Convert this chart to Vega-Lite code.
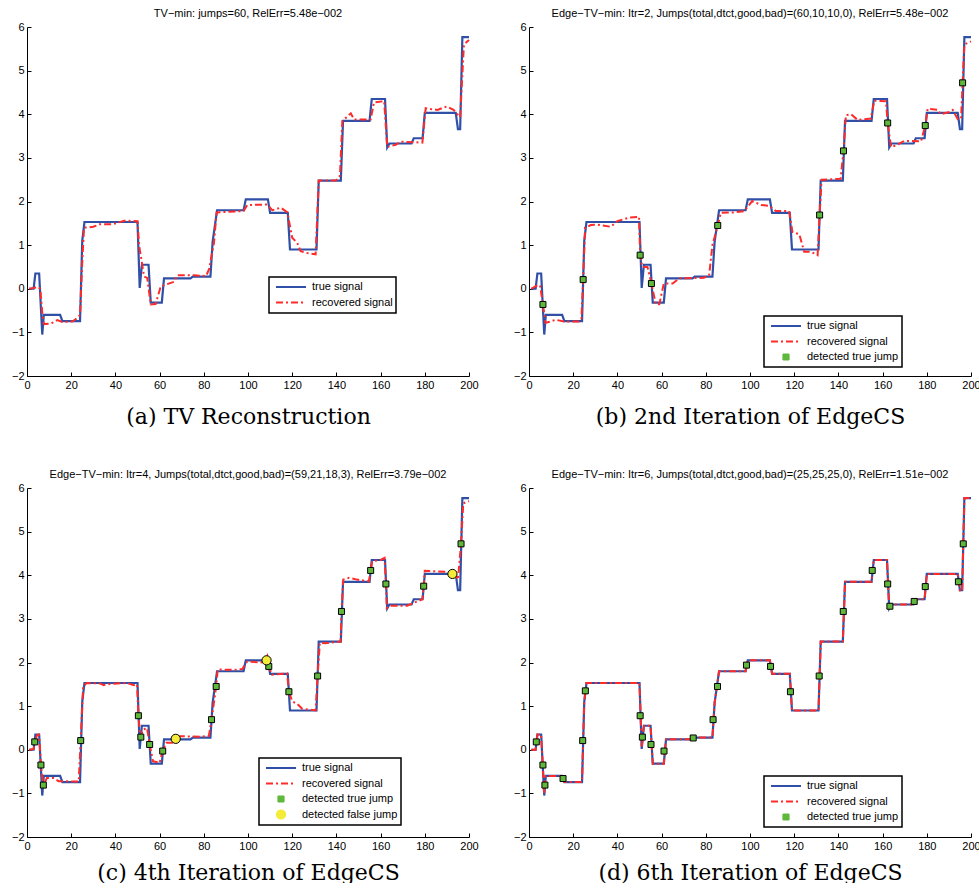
{
  "$schema": "https://vega.github.io/schema/vega-lite/v6.json",
  "background": "white",
  "padding": {"left": 11, "top": 8, "right": 0, "bottom": 0},
  "columns": 2,
  "bounds": "flush",
  "spacing": {"row": 112, "column": 60},
  "resolve": {"scale": {"color": "independent"}, "legend": {"color": "independent"}},
  "datasets": {
    "truth": [
      {"x": 1, "y": 0, "series": "true signal"},
      {"x": 3, "y": 0, "series": "true signal"},
      {"x": 3.8, "y": 0.35, "series": "true signal"},
      {"x": 5.5, "y": 0.35, "series": "true signal"},
      {"x": 6.9, "y": -1.05, "series": "true signal"},
      {"x": 7.6, "y": -0.6, "series": "true signal"},
      {"x": 15, "y": -0.6, "series": "true signal"},
      {"x": 16, "y": -0.74, "series": "true signal"},
      {"x": 24, "y": -0.74, "series": "true signal"},
      {"x": 25, "y": 1.1, "series": "true signal"},
      {"x": 26, "y": 1.53, "series": "true signal"},
      {"x": 50, "y": 1.53, "series": "true signal"},
      {"x": 51, "y": 0.02, "series": "true signal"},
      {"x": 52, "y": 0.55, "series": "true signal"},
      {"x": 55, "y": 0.55, "series": "true signal"},
      {"x": 56, "y": -0.32, "series": "true signal"},
      {"x": 61, "y": -0.32, "series": "true signal"},
      {"x": 62, "y": 0.24, "series": "true signal"},
      {"x": 74, "y": 0.24, "series": "true signal"},
      {"x": 75, "y": 0.28, "series": "true signal"},
      {"x": 83, "y": 0.28, "series": "true signal"},
      {"x": 84, "y": 1.08, "series": "true signal"},
      {"x": 86, "y": 1.8, "series": "true signal"},
      {"x": 98, "y": 1.8, "series": "true signal"},
      {"x": 99, "y": 2.05, "series": "true signal"},
      {"x": 109, "y": 2.05, "series": "true signal"},
      {"x": 110, "y": 1.74, "series": "true signal"},
      {"x": 118, "y": 1.74, "series": "true signal"},
      {"x": 119, "y": 0.9, "series": "true signal"},
      {"x": 131, "y": 0.9, "series": "true signal"},
      {"x": 132, "y": 2.48, "series": "true signal"},
      {"x": 142, "y": 2.48, "series": "true signal"},
      {"x": 143, "y": 3.85, "series": "true signal"},
      {"x": 155, "y": 3.85, "series": "true signal"},
      {"x": 156, "y": 4.35, "series": "true signal"},
      {"x": 162, "y": 4.35, "series": "true signal"},
      {"x": 163, "y": 3.24, "series": "true signal"},
      {"x": 164, "y": 3.33, "series": "true signal"},
      {"x": 174, "y": 3.33, "series": "true signal"},
      {"x": 175, "y": 3.45, "series": "true signal"},
      {"x": 179, "y": 3.45, "series": "true signal"},
      {"x": 180, "y": 4.03, "series": "true signal"},
      {"x": 194, "y": 4.03, "series": "true signal"},
      {"x": 195, "y": 3.66, "series": "true signal"},
      {"x": 196, "y": 3.66, "series": "true signal"},
      {"x": 197, "y": 5.77, "series": "true signal"},
      {"x": 200, "y": 5.77, "series": "true signal"}
    ],
    "recA": [
      {"x": 1, "y": 0, "series": "recovered signal"},
      {"x": 3, "y": 0.02, "series": "recovered signal"},
      {"x": 5, "y": 0.04, "series": "recovered signal"},
      {"x": 6, "y": 0.0, "series": "recovered signal"},
      {"x": 7, "y": -0.6, "series": "recovered signal"},
      {"x": 7.7, "y": -0.81, "series": "recovered signal"},
      {"x": 10.7, "y": -0.8, "series": "recovered signal"},
      {"x": 13.7, "y": -0.72, "series": "recovered signal"},
      {"x": 16, "y": -0.76, "series": "recovered signal"},
      {"x": 20.5, "y": -0.75, "series": "recovered signal"},
      {"x": 22, "y": -0.7, "series": "recovered signal"},
      {"x": 24, "y": -0.6, "series": "recovered signal"},
      {"x": 25, "y": 0.6, "series": "recovered signal"},
      {"x": 25.8, "y": 1.4, "series": "recovered signal"},
      {"x": 30, "y": 1.42, "series": "recovered signal"},
      {"x": 33, "y": 1.48, "series": "recovered signal"},
      {"x": 39, "y": 1.48, "series": "recovered signal"},
      {"x": 44, "y": 1.56, "series": "recovered signal"},
      {"x": 50, "y": 1.55, "series": "recovered signal"},
      {"x": 50.7, "y": 1.0, "series": "recovered signal"},
      {"x": 53, "y": 0.28, "series": "recovered signal"},
      {"x": 54.4, "y": 0.25, "series": "recovered signal"},
      {"x": 56, "y": -0.36, "series": "recovered signal"},
      {"x": 58.2, "y": -0.35, "series": "recovered signal"},
      {"x": 60.5, "y": 0.05, "series": "recovered signal"},
      {"x": 62, "y": 0.08, "series": "recovered signal"},
      {"x": 66.5, "y": 0.16, "series": "recovered signal"},
      {"x": 68, "y": 0.31, "series": "recovered signal"},
      {"x": 75.6, "y": 0.31, "series": "recovered signal"},
      {"x": 81, "y": 0.29, "series": "recovered signal"},
      {"x": 82.4, "y": 0.45, "series": "recovered signal"},
      {"x": 84.6, "y": 1.05, "series": "recovered signal"},
      {"x": 85.8, "y": 1.75, "series": "recovered signal"},
      {"x": 98, "y": 1.78, "series": "recovered signal"},
      {"x": 99.7, "y": 1.92, "series": "recovered signal"},
      {"x": 108.7, "y": 1.93, "series": "recovered signal"},
      {"x": 111, "y": 1.8, "series": "recovered signal"},
      {"x": 114.8, "y": 1.86, "series": "recovered signal"},
      {"x": 117.8, "y": 1.75, "series": "recovered signal"},
      {"x": 120, "y": 1.17, "series": "recovered signal"},
      {"x": 122.3, "y": 1.05, "series": "recovered signal"},
      {"x": 123.8, "y": 0.86, "series": "recovered signal"},
      {"x": 126.8, "y": 0.82, "series": "recovered signal"},
      {"x": 130.6, "y": 0.79, "series": "recovered signal"},
      {"x": 132, "y": 2.48, "series": "recovered signal"},
      {"x": 139.7, "y": 2.48, "series": "recovered signal"},
      {"x": 141.6, "y": 2.59, "series": "recovered signal"},
      {"x": 142.7, "y": 3.85, "series": "recovered signal"},
      {"x": 145, "y": 3.95, "series": "recovered signal"},
      {"x": 146.5, "y": 4.02, "series": "recovered signal"},
      {"x": 148, "y": 3.88, "series": "recovered signal"},
      {"x": 155.5, "y": 3.88, "series": "recovered signal"},
      {"x": 157, "y": 4.27, "series": "recovered signal"},
      {"x": 161.6, "y": 4.3, "series": "recovered signal"},
      {"x": 163, "y": 3.25, "series": "recovered signal"},
      {"x": 166.8, "y": 3.3, "series": "recovered signal"},
      {"x": 169, "y": 3.37, "series": "recovered signal"},
      {"x": 178.9, "y": 3.35, "series": "recovered signal"},
      {"x": 180.4, "y": 4.14, "series": "recovered signal"},
      {"x": 182.6, "y": 4.12, "series": "recovered signal"},
      {"x": 185.7, "y": 4.1, "series": "recovered signal"},
      {"x": 190, "y": 4.18, "series": "recovered signal"},
      {"x": 193, "y": 4.1, "series": "recovered signal"},
      {"x": 196, "y": 3.93, "series": "recovered signal"},
      {"x": 197.7, "y": 5.6, "series": "recovered signal"},
      {"x": 200, "y": 5.7, "series": "recovered signal"}
    ],
    "recB": [
      {"x": 1, "y": 0, "series": "recovered signal"},
      {"x": 3.8, "y": 0.08, "series": "recovered signal"},
      {"x": 5, "y": 0.08, "series": "recovered signal"},
      {"x": 6.3, "y": -0.36, "series": "recovered signal"},
      {"x": 7.5, "y": -0.78, "series": "recovered signal"},
      {"x": 9.8, "y": -0.75, "series": "recovered signal"},
      {"x": 12, "y": -0.71, "series": "recovered signal"},
      {"x": 15.8, "y": -0.75, "series": "recovered signal"},
      {"x": 22.6, "y": -0.75, "series": "recovered signal"},
      {"x": 23.7, "y": -0.7, "series": "recovered signal"},
      {"x": 24.5, "y": 0.21, "series": "recovered signal"},
      {"x": 25.4, "y": 1.4, "series": "recovered signal"},
      {"x": 28, "y": 1.46, "series": "recovered signal"},
      {"x": 31, "y": 1.47, "series": "recovered signal"},
      {"x": 37, "y": 1.42, "series": "recovered signal"},
      {"x": 40, "y": 1.55, "series": "recovered signal"},
      {"x": 45.3, "y": 1.63, "series": "recovered signal"},
      {"x": 49.8, "y": 1.65, "series": "recovered signal"},
      {"x": 50.3, "y": 0.77, "series": "recovered signal"},
      {"x": 51.3, "y": 0.5, "series": "recovered signal"},
      {"x": 53.6, "y": 0.5, "series": "recovered signal"},
      {"x": 55.4, "y": 0.12, "series": "recovered signal"},
      {"x": 57.4, "y": -0.36, "series": "recovered signal"},
      {"x": 59, "y": -0.35, "series": "recovered signal"},
      {"x": 61, "y": 0.12, "series": "recovered signal"},
      {"x": 65, "y": 0.12, "series": "recovered signal"},
      {"x": 68, "y": 0.24, "series": "recovered signal"},
      {"x": 79, "y": 0.25, "series": "recovered signal"},
      {"x": 81.5, "y": 0.3, "series": "recovered signal"},
      {"x": 83, "y": 1.0, "series": "recovered signal"},
      {"x": 85.4, "y": 1.45, "series": "recovered signal"},
      {"x": 86.8, "y": 1.74, "series": "recovered signal"},
      {"x": 93, "y": 1.75, "series": "recovered signal"},
      {"x": 97.4, "y": 1.78, "series": "recovered signal"},
      {"x": 101, "y": 2.01, "series": "recovered signal"},
      {"x": 105, "y": 1.92, "series": "recovered signal"},
      {"x": 108.7, "y": 1.9, "series": "recovered signal"},
      {"x": 111.7, "y": 1.78, "series": "recovered signal"},
      {"x": 117.7, "y": 1.78, "series": "recovered signal"},
      {"x": 119.2, "y": 1.3, "series": "recovered signal"},
      {"x": 122.3, "y": 1.25, "series": "recovered signal"},
      {"x": 124.5, "y": 0.85, "series": "recovered signal"},
      {"x": 127.5, "y": 0.85, "series": "recovered signal"},
      {"x": 130.6, "y": 0.77, "series": "recovered signal"},
      {"x": 131.5, "y": 1.69, "series": "recovered signal"},
      {"x": 132.4, "y": 2.5, "series": "recovered signal"},
      {"x": 141, "y": 2.52, "series": "recovered signal"},
      {"x": 142.3, "y": 3.16, "series": "recovered signal"},
      {"x": 143.4, "y": 3.98, "series": "recovered signal"},
      {"x": 145.7, "y": 4.0, "series": "recovered signal"},
      {"x": 148.7, "y": 3.87, "series": "recovered signal"},
      {"x": 154.7, "y": 3.9, "series": "recovered signal"},
      {"x": 156.2, "y": 4.31, "series": "recovered signal"},
      {"x": 161.5, "y": 4.3, "series": "recovered signal"},
      {"x": 162.3, "y": 3.8, "series": "recovered signal"},
      {"x": 163.8, "y": 3.25, "series": "recovered signal"},
      {"x": 166, "y": 3.28, "series": "recovered signal"},
      {"x": 169.8, "y": 3.39, "series": "recovered signal"},
      {"x": 177.4, "y": 3.38, "series": "recovered signal"},
      {"x": 179.3, "y": 3.74, "series": "recovered signal"},
      {"x": 180.4, "y": 4.13, "series": "recovered signal"},
      {"x": 185, "y": 4.1, "series": "recovered signal"},
      {"x": 186.4, "y": 4.0, "series": "recovered signal"},
      {"x": 190.2, "y": 4.05, "series": "recovered signal"},
      {"x": 191.7, "y": 4.1, "series": "recovered signal"},
      {"x": 194, "y": 3.89, "series": "recovered signal"},
      {"x": 195.5, "y": 3.9, "series": "recovered signal"},
      {"x": 196.2, "y": 4.72, "series": "recovered signal"},
      {"x": 197, "y": 5.6, "series": "recovered signal"},
      {"x": 200, "y": 5.67, "series": "recovered signal"}
    ],
    "recC": [
      {"x": 1, "y": 0, "series": "recovered signal"},
      {"x": 3, "y": 0.02, "series": "recovered signal"},
      {"x": 3.5, "y": 0.18, "series": "recovered signal"},
      {"x": 4.5, "y": 0.33, "series": "recovered signal"},
      {"x": 5.3, "y": 0.35, "series": "recovered signal"},
      {"x": 5.7, "y": 0.2, "series": "recovered signal"},
      {"x": 6.3, "y": -0.35, "series": "recovered signal"},
      {"x": 7.4, "y": -0.82, "series": "recovered signal"},
      {"x": 9, "y": -0.65, "series": "recovered signal"},
      {"x": 12, "y": -0.65, "series": "recovered signal"},
      {"x": 14.3, "y": -0.72, "series": "recovered signal"},
      {"x": 23.4, "y": -0.73, "series": "recovered signal"},
      {"x": 24.3, "y": 0.21, "series": "recovered signal"},
      {"x": 25.4, "y": 1.45, "series": "recovered signal"},
      {"x": 27, "y": 1.53, "series": "recovered signal"},
      {"x": 33, "y": 1.52, "series": "recovered signal"},
      {"x": 34.7, "y": 1.48, "series": "recovered signal"},
      {"x": 36, "y": 1.5, "series": "recovered signal"},
      {"x": 40.8, "y": 1.52, "series": "recovered signal"},
      {"x": 45.3, "y": 1.53, "series": "recovered signal"},
      {"x": 48.3, "y": 1.48, "series": "recovered signal"},
      {"x": 49.8, "y": 1.5, "series": "recovered signal"},
      {"x": 50.4, "y": 0.78, "series": "recovered signal"},
      {"x": 51.3, "y": 0.3, "series": "recovered signal"},
      {"x": 52.5, "y": 0.46, "series": "recovered signal"},
      {"x": 54.3, "y": 0.5, "series": "recovered signal"},
      {"x": 55.5, "y": 0.12, "series": "recovered signal"},
      {"x": 57, "y": -0.26, "series": "recovered signal"},
      {"x": 60, "y": -0.3, "series": "recovered signal"},
      {"x": 61.4, "y": -0.03, "series": "recovered signal"},
      {"x": 63, "y": 0.16, "series": "recovered signal"},
      {"x": 65.7, "y": 0.16, "series": "recovered signal"},
      {"x": 68, "y": 0.31, "series": "recovered signal"},
      {"x": 78.5, "y": 0.3, "series": "recovered signal"},
      {"x": 82.3, "y": 0.32, "series": "recovered signal"},
      {"x": 83.5, "y": 0.69, "series": "recovered signal"},
      {"x": 85.6, "y": 1.45, "series": "recovered signal"},
      {"x": 86.3, "y": 1.84, "series": "recovered signal"},
      {"x": 93.6, "y": 1.83, "series": "recovered signal"},
      {"x": 97.4, "y": 1.85, "series": "recovered signal"},
      {"x": 99.6, "y": 2.02, "series": "recovered signal"},
      {"x": 107.2, "y": 2.0, "series": "recovered signal"},
      {"x": 108.7, "y": 2.15, "series": "recovered signal"},
      {"x": 109.4, "y": 1.91, "series": "recovered signal"},
      {"x": 110.9, "y": 1.72, "series": "recovered signal"},
      {"x": 117.7, "y": 1.75, "series": "recovered signal"},
      {"x": 118.5, "y": 1.33, "series": "recovered signal"},
      {"x": 120, "y": 1.11, "series": "recovered signal"},
      {"x": 122.3, "y": 1.05, "series": "recovered signal"},
      {"x": 124.5, "y": 0.94, "series": "recovered signal"},
      {"x": 130.6, "y": 0.9, "series": "recovered signal"},
      {"x": 131.5, "y": 1.69, "series": "recovered signal"},
      {"x": 132.5, "y": 2.45, "series": "recovered signal"},
      {"x": 135, "y": 2.44, "series": "recovered signal"},
      {"x": 141.9, "y": 2.48, "series": "recovered signal"},
      {"x": 142.3, "y": 3.17, "series": "recovered signal"},
      {"x": 143.1, "y": 3.9, "series": "recovered signal"},
      {"x": 145.7, "y": 3.94, "series": "recovered signal"},
      {"x": 149.4, "y": 3.9, "series": "recovered signal"},
      {"x": 154.7, "y": 3.86, "series": "recovered signal"},
      {"x": 155.5, "y": 4.11, "series": "recovered signal"},
      {"x": 156.2, "y": 4.32, "series": "recovered signal"},
      {"x": 160, "y": 4.35, "series": "recovered signal"},
      {"x": 161.8, "y": 4.4, "series": "recovered signal"},
      {"x": 162.4, "y": 3.8, "series": "recovered signal"},
      {"x": 162.8, "y": 3.25, "series": "recovered signal"},
      {"x": 164, "y": 3.3, "series": "recovered signal"},
      {"x": 172, "y": 3.3, "series": "recovered signal"},
      {"x": 174.3, "y": 3.35, "series": "recovered signal"},
      {"x": 178.9, "y": 3.45, "series": "recovered signal"},
      {"x": 179.5, "y": 3.75, "series": "recovered signal"},
      {"x": 180, "y": 4.1, "series": "recovered signal"},
      {"x": 190, "y": 4.08, "series": "recovered signal"},
      {"x": 192.5, "y": 4.05, "series": "recovered signal"},
      {"x": 194, "y": 4.0, "series": "recovered signal"},
      {"x": 195, "y": 3.9, "series": "recovered signal"},
      {"x": 196.4, "y": 4.72, "series": "recovered signal"},
      {"x": 197.4, "y": 5.65, "series": "recovered signal"},
      {"x": 200, "y": 5.7, "series": "recovered signal"}
    ],
    "recD": [
      {"x": 1, "y": 0, "series": "recovered signal"},
      {"x": 3, "y": 0, "series": "recovered signal"},
      {"x": 3.8, "y": 0.35, "series": "recovered signal"},
      {"x": 5.5, "y": 0.35, "series": "recovered signal"},
      {"x": 6.9, "y": -1.02, "series": "recovered signal"},
      {"x": 7.6, "y": -0.6, "series": "recovered signal"},
      {"x": 15, "y": -0.6, "series": "recovered signal"},
      {"x": 16, "y": -0.74, "series": "recovered signal"},
      {"x": 24, "y": -0.74, "series": "recovered signal"},
      {"x": 25, "y": 1.1, "series": "recovered signal"},
      {"x": 26, "y": 1.53, "series": "recovered signal"},
      {"x": 50, "y": 1.53, "series": "recovered signal"},
      {"x": 51, "y": 0.05, "series": "recovered signal"},
      {"x": 52, "y": 0.55, "series": "recovered signal"},
      {"x": 55, "y": 0.55, "series": "recovered signal"},
      {"x": 56, "y": -0.32, "series": "recovered signal"},
      {"x": 61, "y": -0.32, "series": "recovered signal"},
      {"x": 62, "y": 0.24, "series": "recovered signal"},
      {"x": 74, "y": 0.24, "series": "recovered signal"},
      {"x": 75, "y": 0.28, "series": "recovered signal"},
      {"x": 83, "y": 0.28, "series": "recovered signal"},
      {"x": 84, "y": 1.08, "series": "recovered signal"},
      {"x": 86, "y": 1.8, "series": "recovered signal"},
      {"x": 98, "y": 1.8, "series": "recovered signal"},
      {"x": 99, "y": 2.05, "series": "recovered signal"},
      {"x": 109, "y": 2.05, "series": "recovered signal"},
      {"x": 110, "y": 1.74, "series": "recovered signal"},
      {"x": 118, "y": 1.74, "series": "recovered signal"},
      {"x": 119, "y": 0.9, "series": "recovered signal"},
      {"x": 131, "y": 0.9, "series": "recovered signal"},
      {"x": 132, "y": 2.48, "series": "recovered signal"},
      {"x": 142, "y": 2.48, "series": "recovered signal"},
      {"x": 143, "y": 3.85, "series": "recovered signal"},
      {"x": 155, "y": 3.85, "series": "recovered signal"},
      {"x": 156, "y": 4.35, "series": "recovered signal"},
      {"x": 162, "y": 4.35, "series": "recovered signal"},
      {"x": 163, "y": 3.22, "series": "recovered signal"},
      {"x": 164, "y": 3.33, "series": "recovered signal"},
      {"x": 174, "y": 3.33, "series": "recovered signal"},
      {"x": 175, "y": 3.45, "series": "recovered signal"},
      {"x": 179, "y": 3.45, "series": "recovered signal"},
      {"x": 180, "y": 4.03, "series": "recovered signal"},
      {"x": 194, "y": 4.03, "series": "recovered signal"},
      {"x": 195, "y": 3.63, "series": "recovered signal"},
      {"x": 196, "y": 3.65, "series": "recovered signal"},
      {"x": 197, "y": 5.77, "series": "recovered signal"},
      {"x": 200, "y": 5.77, "series": "recovered signal"}
    ],
    "jumpsB": [
      {"x": 6.3, "y": -0.36, "series": "detected true jump"},
      {"x": 24.5, "y": 0.21, "series": "detected true jump"},
      {"x": 50.3, "y": 0.77, "series": "detected true jump"},
      {"x": 55.4, "y": 0.12, "series": "detected true jump"},
      {"x": 85.4, "y": 1.45, "series": "detected true jump"},
      {"x": 131.5, "y": 1.69, "series": "detected true jump"},
      {"x": 142.3, "y": 3.16, "series": "detected true jump"},
      {"x": 162.3, "y": 3.8, "series": "detected true jump"},
      {"x": 179.3, "y": 3.74, "series": "detected true jump"},
      {"x": 196.2, "y": 4.72, "series": "detected true jump"}
    ],
    "jumpsC": [
      {"x": 3.5, "y": 0.18, "series": "detected true jump"},
      {"x": 6.3, "y": -0.35, "series": "detected true jump"},
      {"x": 7.4, "y": -0.81, "series": "detected true jump"},
      {"x": 24.3, "y": 0.21, "series": "detected true jump"},
      {"x": 50.4, "y": 0.78, "series": "detected true jump"},
      {"x": 51.5, "y": 0.29, "series": "detected true jump"},
      {"x": 55.5, "y": 0.12, "series": "detected true jump"},
      {"x": 61.4, "y": -0.03, "series": "detected true jump"},
      {"x": 83.5, "y": 0.69, "series": "detected true jump"},
      {"x": 85.6, "y": 1.45, "series": "detected true jump"},
      {"x": 109.4, "y": 1.91, "series": "detected true jump"},
      {"x": 118.5, "y": 1.33, "series": "detected true jump"},
      {"x": 131.5, "y": 1.69, "series": "detected true jump"},
      {"x": 142.3, "y": 3.17, "series": "detected true jump"},
      {"x": 155.5, "y": 4.11, "series": "detected true jump"},
      {"x": 162.4, "y": 3.8, "series": "detected true jump"},
      {"x": 179.5, "y": 3.75, "series": "detected true jump"},
      {"x": 196.4, "y": 4.72, "series": "detected true jump"},
      {"x": 67.3, "y": 0.25, "series": "detected false jump"},
      {"x": 108.4, "y": 2.05, "series": "detected false jump"},
      {"x": 192.5, "y": 4.03, "series": "detected false jump"}
    ],
    "jumpsD": [
      {"x": 3.3, "y": 0.18, "series": "detected true jump"},
      {"x": 6.3, "y": -0.35, "series": "detected true jump"},
      {"x": 7.2, "y": -0.81, "series": "detected true jump"},
      {"x": 15.4, "y": -0.66, "series": "detected true jump"},
      {"x": 24.3, "y": 0.21, "series": "detected true jump"},
      {"x": 25.5, "y": 1.35, "series": "detected true jump"},
      {"x": 50.3, "y": 0.78, "series": "detected true jump"},
      {"x": 51.3, "y": 0.29, "series": "detected true jump"},
      {"x": 55.2, "y": 0.12, "series": "detected true jump"},
      {"x": 61.1, "y": -0.03, "series": "detected true jump"},
      {"x": 74.3, "y": 0.27, "series": "detected true jump"},
      {"x": 83.3, "y": 0.69, "series": "detected true jump"},
      {"x": 85.3, "y": 1.45, "series": "detected true jump"},
      {"x": 98.4, "y": 1.94, "series": "detected true jump"},
      {"x": 109.3, "y": 1.91, "series": "detected true jump"},
      {"x": 118.3, "y": 1.33, "series": "detected true jump"},
      {"x": 131.3, "y": 1.69, "series": "detected true jump"},
      {"x": 142.2, "y": 3.17, "series": "detected true jump"},
      {"x": 155.3, "y": 4.11, "series": "detected true jump"},
      {"x": 162.3, "y": 3.8, "series": "detected true jump"},
      {"x": 163.3, "y": 3.29, "series": "detected true jump"},
      {"x": 174.3, "y": 3.4, "series": "detected true jump"},
      {"x": 179.3, "y": 3.74, "series": "detected true jump"},
      {"x": 194.3, "y": 3.85, "series": "detected true jump"},
      {"x": 196.5, "y": 4.72, "series": "detected true jump"}
    ]
  },
  "concat": [
    {
      "width": 442, "height": 349,
      "title": {"text": "TV−min: jumps=60, RelErr=5.48e−002"},
      "encoding": {
        "x": {"field": "x", "type": "quantitative", "scale": {"domain": [0, 200], "nice": false, "zero": false},
              "axis": {"values": [0,20,40,60,80,100,120,140,160,180,200], "title": "(a) TV Reconstruction", "titlePadding": 16}},
        "y": {"field": "y", "type": "quantitative", "scale": {"domain": [-2, 6], "nice": false},
              "axis": {"values": [-2,-1,0,1,2,3,4,5,6], "title": null}},
        "color": {"field": "series", "type": "nominal",
                  "scale": {"domain": ["true signal", "recovered signal"], "range": ["#3050a8", "#ff2a2a"]},
                  "legend": {"legendX": 242, "legendY": 250,
                    "encode": {
                      "legend": {"update": {"strokeWidth": {"value": 1.5}}},
                      "symbols": {"update": {
                        "shape": {"signal": "datum.value === 'detected true jump' ? 'M-0.2,-0.2L0.2,-0.2L0.2,0.2L-0.2,0.2Z' : datum.value === 'detected false jump' ? 'M-0.3,0A0.3,0.3,0,1,0,0.3,0A0.3,0.3,0,1,0,-0.3,0Z' : 'M-1,0L1,0'"},
                        "fill": {"signal": "datum.value === 'detected true jump' ? '#5fb83c' : datum.value === 'detected false jump' ? '#f5ec3a' : 'transparent'"},
                        "stroke": {"signal": "datum.value === 'true signal' ? '#3050a8' : datum.value === 'recovered signal' ? '#ff2a2a' : '#000000'"},
                        "strokeDash": {"signal": "datum.value === 'recovered signal' ? [7,3,2,3] : [1,0]"},
                        "strokeWidth": {"signal": "(datum.value === 'true signal' || datum.value === 'recovered signal' ? 2 : 1.2)"},
                        "opacity": {"value": 1}, "fillOpacity": {"value": 1}, "strokeOpacity": {"value": 1}
                      }}
                    }}}
      },
      "layer": [
        {"data": {"name": "truth"}, "mark": {"type": "line", "strokeWidth": 2.2}},
        {"data": {"name": "recA"}, "mark": {"type": "line", "strokeWidth": 2, "strokeDash": [7, 3, 2, 3]}}
      ]
    },
    {
      "width": 442, "height": 349,
      "title": {"text": "Edge−TV−min: Itr=2, Jumps(total,dtct,good,bad)=(60,10,10,0), RelErr=5.48e−002"},
      "encoding": {
        "x": {"field": "x", "type": "quantitative", "scale": {"domain": [0, 200], "nice": false, "zero": false},
              "axis": {"values": [0,20,40,60,80,100,120,140,160,180,200], "title": "(b) 2nd Iteration of EdgeCS", "titlePadding": 16}},
        "y": {"field": "y", "type": "quantitative", "scale": {"domain": [-2, 6], "nice": false},
              "axis": {"values": [-2,-1,0,1,2,3,4,5,6], "title": null}},
        "color": {"field": "series", "type": "nominal",
                  "scale": {"domain": ["true signal", "recovered signal", "detected true jump"], "range": ["#3050a8", "#ff2a2a", "#5fb83c"]},
                  "legend": {"legendX": 235, "legendY": 289,
                    "encode": {
                      "legend": {"update": {"strokeWidth": {"value": 1.5}}},
                      "symbols": {"update": {
                        "shape": {"signal": "datum.value === 'detected true jump' ? 'M-0.2,-0.2L0.2,-0.2L0.2,0.2L-0.2,0.2Z' : datum.value === 'detected false jump' ? 'M-0.3,0A0.3,0.3,0,1,0,0.3,0A0.3,0.3,0,1,0,-0.3,0Z' : 'M-1,0L1,0'"},
                        "fill": {"signal": "datum.value === 'detected true jump' ? '#5fb83c' : datum.value === 'detected false jump' ? '#f5ec3a' : 'transparent'"},
                        "stroke": {"signal": "datum.value === 'true signal' ? '#3050a8' : datum.value === 'recovered signal' ? '#ff2a2a' : '#000000'"},
                        "strokeDash": {"signal": "datum.value === 'recovered signal' ? [7,3,2,3] : [1,0]"},
                        "strokeWidth": {"signal": "(datum.value === 'true signal' || datum.value === 'recovered signal' ? 2 : 1.2)"},
                        "opacity": {"value": 1}, "fillOpacity": {"value": 1}, "strokeOpacity": {"value": 1}
                      }}
                    }}}
      },
      "layer": [
        {"data": {"name": "truth"}, "mark": {"type": "line", "strokeWidth": 2.2}},
        {"data": {"name": "recB"}, "mark": {"type": "line", "strokeWidth": 2, "strokeDash": [7, 3, 2, 3]}},
        {"data": {"name": "jumpsB"}, "mark": {"type": "point", "shape": "square", "filled": true, "size": 36, "stroke": "black", "strokeWidth": 1, "opacity": 1}}
      ]
    },
    {
      "width": 442, "height": 349,
      "title": {"text": "Edge−TV−min: Itr=4, Jumps(total,dtct,good,bad)=(59,21,18,3), RelErr=3.79e−002"},
      "encoding": {
        "x": {"field": "x", "type": "quantitative", "scale": {"domain": [0, 200], "nice": false, "zero": false},
              "axis": {"values": [0,20,40,60,80,100,120,140,160,180,200], "title": "(c) 4th Iteration of EdgeCS", "titlePadding": 11}},
        "y": {"field": "y", "type": "quantitative", "scale": {"domain": [-2, 6], "nice": false},
              "axis": {"values": [-2,-1,0,1,2,3,4,5,6], "title": null}},
        "color": {"field": "series", "type": "nominal",
                  "scale": {"domain": ["true signal", "recovered signal", "detected true jump", "detected false jump"], "range": ["#3050a8", "#ff2a2a", "#5fb83c", "#f5ec3a"]},
                  "legend": {"legendX": 232, "legendY": 270,
                    "encode": {
                      "legend": {"update": {"strokeWidth": {"value": 1.5}}},
                      "symbols": {"update": {
                        "shape": {"signal": "datum.value === 'detected true jump' ? 'M-0.2,-0.2L0.2,-0.2L0.2,0.2L-0.2,0.2Z' : datum.value === 'detected false jump' ? 'M-0.3,0A0.3,0.3,0,1,0,0.3,0A0.3,0.3,0,1,0,-0.3,0Z' : 'M-1,0L1,0'"},
                        "fill": {"signal": "datum.value === 'detected true jump' ? '#5fb83c' : datum.value === 'detected false jump' ? '#f5ec3a' : 'transparent'"},
                        "stroke": {"signal": "datum.value === 'true signal' ? '#3050a8' : datum.value === 'recovered signal' ? '#ff2a2a' : '#000000'"},
                        "strokeDash": {"signal": "datum.value === 'recovered signal' ? [7,3,2,3] : [1,0]"},
                        "strokeWidth": {"signal": "(datum.value === 'true signal' || datum.value === 'recovered signal' ? 2 : 1.2)"},
                        "opacity": {"value": 1}, "fillOpacity": {"value": 1}, "strokeOpacity": {"value": 1}
                      }}
                    }}}
      },
      "layer": [
        {"data": {"name": "truth"}, "mark": {"type": "line", "strokeWidth": 2.2}},
        {"data": {"name": "recC"}, "mark": {"type": "line", "strokeWidth": 2, "strokeDash": [7, 3, 2, 3]}},
        {"data": {"name": "jumpsC"}, "transform": [{"filter": "datum.series == 'detected true jump'"}],
         "mark": {"type": "point", "shape": "square", "filled": true, "size": 36, "stroke": "black", "strokeWidth": 1, "opacity": 1}},
        {"data": {"name": "jumpsC"}, "transform": [{"filter": "datum.series == 'detected false jump'"}],
         "mark": {"type": "point", "shape": "circle", "filled": true, "size": 85, "stroke": "black", "strokeWidth": 1, "opacity": 1}}
      ]
    },
    {
      "width": 442, "height": 349,
      "title": {"text": "Edge−TV−min: Itr=6, Jumps(total,dtct,good,bad)=(25,25,25,0), RelErr=1.51e−002"},
      "encoding": {
        "x": {"field": "x", "type": "quantitative", "scale": {"domain": [0, 200], "nice": false, "zero": false},
              "axis": {"values": [0,20,40,60,80,100,120,140,160,180,200], "title": "(d) 6th Iteration of EdgeCS", "titlePadding": 11}},
        "y": {"field": "y", "type": "quantitative", "scale": {"domain": [-2, 6], "nice": false},
              "axis": {"values": [-2,-1,0,1,2,3,4,5,6], "title": null}},
        "color": {"field": "series", "type": "nominal",
                  "scale": {"domain": ["true signal", "recovered signal", "detected true jump"], "range": ["#3050a8", "#ff2a2a", "#5fb83c"]},
                  "legend": {"legendX": 235, "legendY": 288,
                    "encode": {
                      "legend": {"update": {"strokeWidth": {"value": 1.5}}},
                      "symbols": {"update": {
                        "shape": {"signal": "datum.value === 'detected true jump' ? 'M-0.2,-0.2L0.2,-0.2L0.2,0.2L-0.2,0.2Z' : datum.value === 'detected false jump' ? 'M-0.3,0A0.3,0.3,0,1,0,0.3,0A0.3,0.3,0,1,0,-0.3,0Z' : 'M-1,0L1,0'"},
                        "fill": {"signal": "datum.value === 'detected true jump' ? '#5fb83c' : datum.value === 'detected false jump' ? '#f5ec3a' : 'transparent'"},
                        "stroke": {"signal": "datum.value === 'true signal' ? '#3050a8' : datum.value === 'recovered signal' ? '#ff2a2a' : '#000000'"},
                        "strokeDash": {"signal": "datum.value === 'recovered signal' ? [7,3,2,3] : [1,0]"},
                        "strokeWidth": {"signal": "(datum.value === 'true signal' || datum.value === 'recovered signal' ? 2 : 1.2)"},
                        "opacity": {"value": 1}, "fillOpacity": {"value": 1}, "strokeOpacity": {"value": 1}
                      }}
                    }}}
      },
      "layer": [
        {"data": {"name": "truth"}, "mark": {"type": "line", "strokeWidth": 2.2}},
        {"data": {"name": "recD"}, "mark": {"type": "line", "strokeWidth": 2, "strokeDash": [7, 3, 2, 3]}},
        {"data": {"name": "jumpsD"}, "mark": {"type": "point", "shape": "square", "filled": true, "size": 36, "stroke": "black", "strokeWidth": 1, "opacity": 1}}
      ]
    }
  ],
  "config": {
    "view": {"stroke": null},
    "title": {"font": "Liberation Sans", "fontSize": 11, "fontWeight": "normal", "color": "black", "offset": 2, "frame": "group", "anchor": "middle"},
    "axis": {
      "domainColor": "black", "domainWidth": 1, "tickColor": "black", "tickWidth": 1, "tickSize": -4,
      "labelColor": "black", "labelFont": "Liberation Sans", "labelFontSize": 11, "labelPadding": 7,
      "labelFlush": false, "grid": false,
      "titleFont": "DejaVu Serif", "titleFontSize": 22, "titleFontWeight": "normal", "titleColor": "black"
    },
    "legend": {
      "orient": "none", "direction": "vertical", "title": null,
      "labelFont": "Liberation Sans", "labelFontSize": 11, "labelColor": "black",
      "symbolSize": 900, "clipHeight": 14, "rowPadding": 1.5, "padding": 3,
      "strokeColor": "black", "fillColor": "white", "symbolOffset": 3, "labelOffset": 5
    }
  }
}
